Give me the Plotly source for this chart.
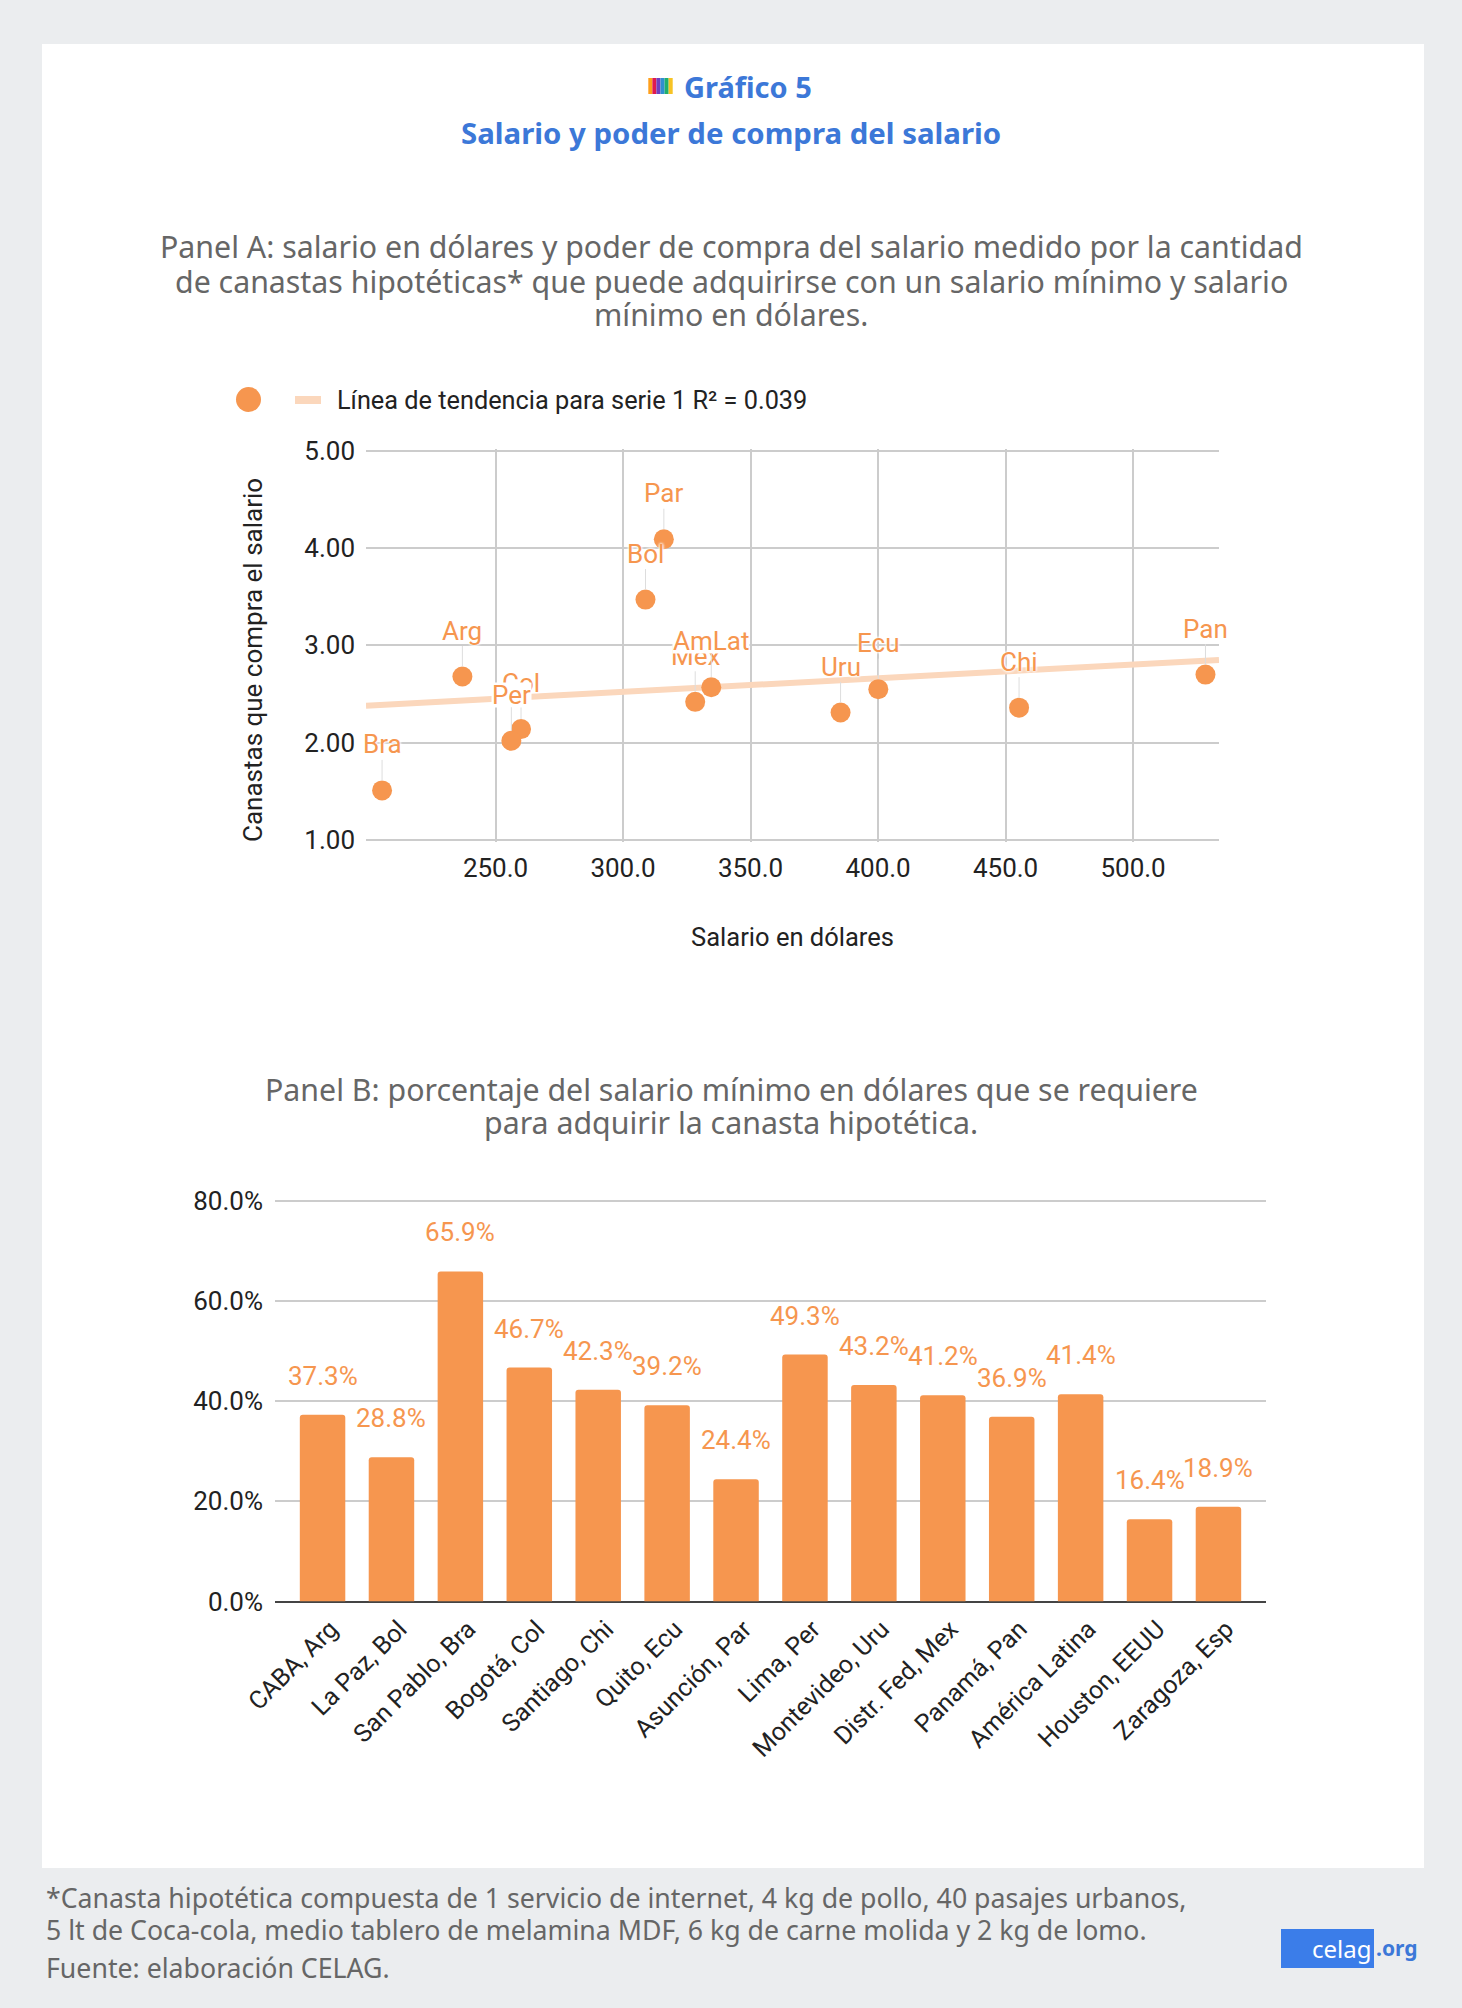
import plotly.graph_objects as go

W, H = 1462, 2008
ORANGE = "#F6964F"
TREND = "#FBD7BC"
BLUE = "#3C78D8"
GREY_TXT = "#666666"
DARK = "#222222"
TITLE_FONT = "Noto Sans"
NUM_FONT = "Roboto"

# Panel A data
codes = ["Bra", "Arg", "Col", "Per", "Bol", "Par", "Mex", "AmLat", "Uru", "Ecu", "Chi", "Pan"]
salary_usd = [205.5, 237, 260, 256.2, 308.8, 316, 328.3, 334.6, 385.3, 400.1, 455.3, 528.4]
baskets = [1.51, 2.68, 2.14, 2.02, 3.47, 4.09, 2.42, 2.57, 2.31, 2.55, 2.36, 2.70]
trend_x = [199.2, 533.7]
trend_y = [2.38, 2.85]
x_ticks_a = [250, 300, 350, 400, 450, 500]
y_ticks_a = [1, 2, 3, 4, 5]

# Panel B data
cities = ["CABA, Arg", "La Paz, Bol", "San Pablo, Bra", "Bogotá, Col", "Santiago, Chi", "Quito, Ecu",
          "Asunción, Par", "Lima, Per", "Montevideo, Uru", "Distr. Fed, Mex", "Panamá, Pan",
          "América Latina", "Houston, EEUU", "Zaragoza, Esp"]
share_pct = [37.3, 28.8, 65.9, 46.7, 42.3, 39.2, 24.4, 49.3, 43.2, 41.2, 36.9, 41.4, 16.4, 18.9]
y_ticks_b = [0, 20, 40, 60, 80]

# Texts
panel_a_lines = ["Panel A: salario en dólares y poder de compra del salario medido por la cantidad",
                 "de canastas hipotéticas* que puede adquirirse con un salario mínimo y salario",
                 "mínimo en dólares."]
panel_b_lines = ["Panel B: porcentaje del salario mínimo en dólares que se requiere",
                 "para adquirir la canasta hipotética."]
foot_lines = ["*Canasta hipotética compuesta de 1 servicio de internet, 4 kg de pollo, 40 pasajes urbanos,",
              "5 lt de Coca-cola, medio tablero de melamina MDF, 6 kg de carne molida y 2 kg de lomo.",
              "Fuente: elaboración CELAG."]
stripe_colors = ["#FF9F1C", "#E0194F", "#6F3FC0", "#2F8FD0", "#1FAF6E", "#F7C325"]


def fx(p):
    return p / W


def fy(p):
    return 1 - p / H


def page_text(text, x, y, size, color, family=TITLE_FONT, weight=None, anchor="center", angle=0):
    return dict(xref="paper", yref="paper", x=fx(x), y=fy(y), text=text, showarrow=False,
                xanchor=anchor, yanchor="middle", textangle=angle,
                font=dict(family=family, size=size, color=color, weight=weight))


fig = go.Figure()
fig.add_trace(go.Scatter(x=trend_x, y=trend_y, mode="lines", line=dict(color=TREND, width=6),
                         name="Línea de tendencia para serie 1 R² = 0.039", xaxis="x", yaxis="y"))
fig.add_trace(go.Scatter(x=salary_usd, y=baskets, mode="markers", text=codes,
                         marker=dict(color=ORANGE, size=20), name="Serie 1", xaxis="x", yaxis="y"))
fig.add_trace(go.Bar(x=cities, y=share_pct, marker=dict(color=ORANGE, line_width=0, cornerradius=3),
                     width=0.66, xaxis="x2", yaxis="y2", name="Panel B"))

annotations = []
annotations.append(page_text("Gráfico 5", 748, 87, 29, BLUE, weight=700))
annotations.append(page_text("Salario y poder de compra del salario", 731, 133, 29.4, BLUE, weight=700))
for line, y in zip(panel_a_lines, [246, 281, 315]):
    annotations.append(page_text(line, 731, y, 30.3, GREY_TXT))
for line, y in zip(panel_b_lines, [1089, 1122]):
    annotations.append(page_text(line, 731, y, 30.3, GREY_TXT))
for line, y in zip(foot_lines, [1897, 1929, 1967]):
    annotations.append(page_text(line, 44, y, 26.7, GREY_TXT, anchor="left"))

# Legend (hand placed because marker size exceeds the legend's cap)
annotations.append(page_text("Línea de tendencia para serie 1 R² = 0.039", 335, 400, 25.3, DARK, family=NUM_FONT, anchor="left"))
annotations.append(page_text("Canastas que compra el salario", 253, 660, 26, DARK, family=NUM_FONT, angle=-90))

# Logo text
annotations.append(page_text("celag", 1373, 1948, 24, "white", anchor="right"))
annotations.append(page_text(".org", 1374, 1948, 21, BLUE, weight=700, anchor="left"))

# Scatter labels with leader lines
opaque = {"Per", "AmLat"}
for code, xv, yv in zip(codes, salary_usd, baskets):
    label = dict(xref="x", yref="y", x=xv, y=yv, text=code, showarrow=True, arrowhead=0,
                 arrowwidth=1, arrowcolor="#DDDDDD", ax=0, ay=-46, standoff=10, borderpad=0,
                 bgcolor="white" if code in opaque else "rgba(0,0,0,0)",
                 font=dict(family=NUM_FONT, size=26, color=ORANGE,
                           shadow="0 0 3px white, 0 0 3px white, 0 0 3px white"))
    if code in opaque:
        label["height"] = 24
    annotations.append(label)

# Bar labels
for city, v in zip(cities, share_pct):
    annotations.append(dict(xref="x2", yref="y2", x=city, y=v, text=f"{v:.1f}%", showarrow=False,
                            yshift=39, yanchor="middle", xanchor="center",
                            font=dict(family=NUM_FONT, size=26, color=ORANGE)))

shapes = [
    dict(type="rect", xref="paper", yref="paper", x0=fx(42), x1=fx(1424), y0=fy(44), y1=fy(1868),
         fillcolor="white", line_width=0, layer="below"),
    dict(type="rect", xref="paper", yref="paper", x0=fx(1281), x1=fx(1374), y0=fy(1929), y1=fy(1968),
         fillcolor="#3B7DE9", line_width=0, layer="below"),
    dict(type="circle", xref="paper", yref="paper", x0=fx(236), x1=fx(261), y0=fy(387), y1=fy(412),
         fillcolor=ORANGE, line_width=0),
    dict(type="rect", xref="paper", yref="paper", x0=fx(295), x1=fx(321), y0=fy(396), y1=fy(404),
         fillcolor=TREND, line_width=0),
]
stripe_w = (672.7 - 648.3) / len(stripe_colors)
for i, c in enumerate(stripe_colors):
    shapes.append(dict(type="rect", xref="paper", yref="paper", x0=fx(648.3 + i * stripe_w),
                       x1=fx(648.3 + (i + 1) * stripe_w), y0=fy(78), y1=fy(94), fillcolor=c, line_width=0))

tick_font = dict(family=NUM_FONT, size=26, color=DARK)
cat_font = dict(family=NUM_FONT, size=25, color=DARK)
fig.update_layout(
    width=W, height=H, autosize=False, showlegend=False,
    paper_bgcolor="#EBEDEF", plot_bgcolor="rgba(0,0,0,0)",
    margin=dict(l=0, r=0, t=0, b=0, pad=0, autoexpand=False),
    annotations=annotations, shapes=shapes,
    xaxis=dict(domain=[fx(366), fx(1219)], range=[199.2, 533.7], anchor="y", tickvals=x_ticks_a, tickformat=".1f",
               showgrid=True, gridcolor="#CCCCCC", gridwidth=2, zeroline=False, showline=False, ticks="",
               tickfont=tick_font, ticklabelstandoff=8,
               title=dict(text="Salario en dólares", font=dict(family=NUM_FONT, size=25.5, color=DARK), standoff=46)),
    yaxis=dict(domain=[fy(842), fy(448.7)], range=[0.98, 5.02], anchor="x", tickvals=y_ticks_a, tickformat=".2f",
               showgrid=True, gridcolor="#CCCCCC", gridwidth=2, zeroline=False, showline=False, ticks="",
               tickfont=tick_font, ticklabelstandoff=10),
    xaxis2=dict(domain=[fx(275), fx(1266)], range=[-0.69, 13.69], anchor="y2", type="category",
                tickangle=-45, showgrid=False, zeroline=False, showline=False, ticks="",
                tickfont=cat_font, ticklabelstandoff=7, ticklabelshift=8),
    yaxis2=dict(domain=[fy(1601.5), fy(1198.8)], range=[0, 80.4], anchor="x2", tickvals=y_ticks_b,
                ticktext=[f"{v:.1f}%" for v in y_ticks_b], showgrid=True, gridcolor="#CCCCCC", gridwidth=2,
                zeroline=True, zerolinecolor="#444444", zerolinewidth=2, showline=False, ticks="",
                tickfont=tick_font, ticklabelstandoff=11),
)

fig.write_html("out.html", config=dict(displayModeBar=False, responsive=False),
               post_script="document.body.style.margin='0';document.body.style.overflow='hidden';")
